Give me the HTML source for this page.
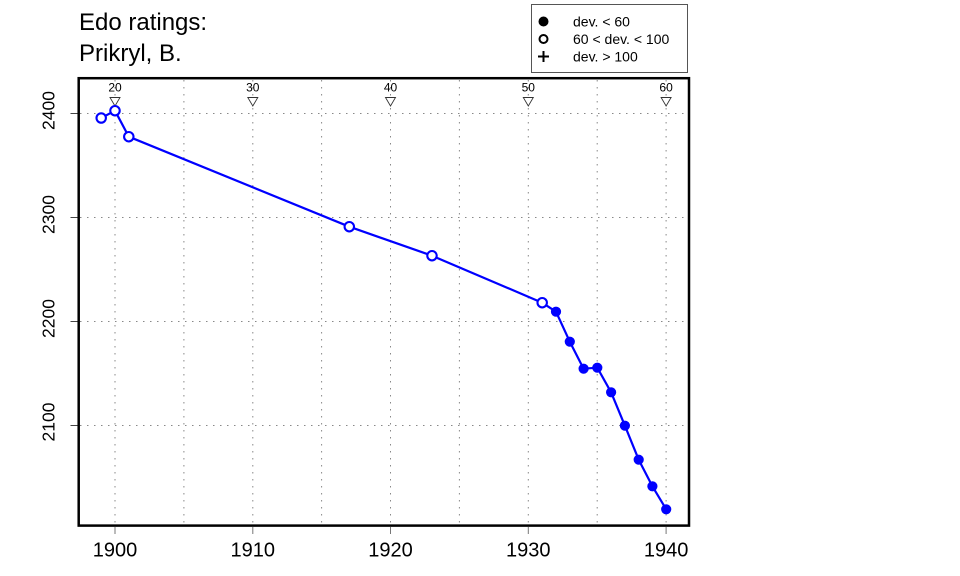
<!DOCTYPE html>
<html>
<head>
<meta charset="utf-8">
<style>
html,body{margin:0;padding:0;background:#fff;}
svg{display:block;}
text{font-family:"Liberation Sans",Arial,sans-serif;fill:#000;}
</style>
</head>
<body>
<svg width="960" height="576" viewBox="0 0 960 576" xmlns="http://www.w3.org/2000/svg">
  <rect x="0" y="0" width="960" height="576" fill="#fff"/>
  <!-- Title -->
  <text x="79" y="30" font-size="24">Edo ratings:</text>
  <text x="79" y="61" font-size="24">Prikryl, B.</text>

  <!-- Legend -->
  <rect x="531.5" y="4.5" width="156" height="68" fill="#fff" stroke="#555" stroke-width="1"/>
  <circle cx="543.5" cy="21.5" r="5" fill="#000"/>
  <circle cx="543.5" cy="39" r="4" fill="none" stroke="#000" stroke-width="2"/>
  <line x1="538" y1="56.5" x2="549" y2="56.5" stroke="#000" stroke-width="2"/>
  <line x1="543.5" y1="51" x2="543.5" y2="62" stroke="#000" stroke-width="2"/>
  <text x="573" y="26.5" font-size="14">dev. &lt; 60</text>
  <text x="573" y="44" font-size="14">60 &lt; dev. &lt; 100</text>
  <text x="573" y="61.5" font-size="14">dev. &gt; 100</text>

  <!-- Grid -->
  <g stroke="#888" stroke-width="1" stroke-dasharray="1.5,5.5" fill="none">
    <line x1="115" y1="80" x2="115" y2="524"/>
    <line x1="183.9" y1="80" x2="183.9" y2="524"/>
    <line x1="252.8" y1="80" x2="252.8" y2="524"/>
    <line x1="321.6" y1="80" x2="321.6" y2="524"/>
    <line x1="390.5" y1="80" x2="390.5" y2="524"/>
    <line x1="459.4" y1="80" x2="459.4" y2="524"/>
    <line x1="528.3" y1="80" x2="528.3" y2="524"/>
    <line x1="597.2" y1="80" x2="597.2" y2="524"/>
    <line x1="666.1" y1="80" x2="666.1" y2="524"/>
    <line x1="80" y1="113.5" x2="688" y2="113.5"/>
    <line x1="80" y1="217.5" x2="688" y2="217.5"/>
    <line x1="80" y1="321.5" x2="688" y2="321.5"/>
    <line x1="80" y1="425.5" x2="688" y2="425.5"/>
  </g>

  <!-- Top age labels and triangles -->
  <g font-size="12" text-anchor="middle">
    <text x="115" y="91.5">20</text>
    <text x="252.8" y="91.5">30</text>
    <text x="390.5" y="91.5">40</text>
    <text x="528.3" y="91.5">50</text>
    <text x="666.1" y="91.5">60</text>
  </g>
  <g fill="#fff" stroke="#333" stroke-width="0.9">
    <polygon points="110,97.5 120,97.5 115,106"/>
    <polygon points="247.8,97.5 257.8,97.5 252.8,106"/>
    <polygon points="385.5,97.5 395.5,97.5 390.5,106"/>
    <polygon points="523.3,97.5 533.3,97.5 528.3,106"/>
    <polygon points="661.1,97.5 671.1,97.5 666.1,106"/>
  </g>

  <!-- Data line -->
  <polyline fill="none" stroke="#0000ff" stroke-width="2.2" stroke-linejoin="round"
    points="101.2,118 115,110.7 128.8,136.7 349.3,226.7 432,255.7 542.2,302.7 556,311.7 569.8,341.7 583.6,368.7 597.3,367.7 611.1,392.3 624.9,425.7 638.7,459.7 652.4,486.3 666.2,509.3"/>
  <!-- Open circles -->
  <g fill="#fff" stroke="#0000ff" stroke-width="2.1">
    <circle cx="101.2" cy="118" r="4.7"/>
    <circle cx="115" cy="110.7" r="4.7"/>
    <circle cx="128.8" cy="136.7" r="4.7"/>
    <circle cx="349.3" cy="226.7" r="4.7"/>
    <circle cx="432" cy="255.7" r="4.7"/>
    <circle cx="542.2" cy="302.7" r="4.7"/>
  </g>
  <!-- Filled circles -->
  <g fill="#0000ff">
    <circle cx="556" cy="311.7" r="5.1"/>
    <circle cx="569.8" cy="341.7" r="5.1"/>
    <circle cx="583.6" cy="368.7" r="5.1"/>
    <circle cx="597.3" cy="367.7" r="5.1"/>
    <circle cx="611.1" cy="392.3" r="5.1"/>
    <circle cx="624.9" cy="425.7" r="5.1"/>
    <circle cx="638.7" cy="459.7" r="5.1"/>
    <circle cx="652.4" cy="486.3" r="5.1"/>
    <circle cx="666.2" cy="509.3" r="5.1"/>
  </g>

  <!-- Plot frame -->
  <rect x="78.7" y="78.2" width="610.3" height="447.4" fill="none" stroke="#000" stroke-width="2.5"/>

  <!-- Y ticks -->
  <g stroke="#444" stroke-width="1">
    <line x1="70.5" y1="113.5" x2="77.5" y2="113.5"/>
    <line x1="70.5" y1="217.5" x2="77.5" y2="217.5"/>
    <line x1="70.5" y1="321.5" x2="77.5" y2="321.5"/>
    <line x1="70.5" y1="425.5" x2="77.5" y2="425.5"/>
  </g>
  <!-- Y labels -->
  <g font-size="17.5" text-anchor="middle">
    <text transform="translate(54.3,110.5) rotate(-90)">2400</text>
    <text transform="translate(54.3,214.5) rotate(-90)">2300</text>
    <text transform="translate(54.3,318.5) rotate(-90)">2200</text>
    <text transform="translate(54.3,422) rotate(-90)">2100</text>
  </g>

  <!-- X ticks -->
  <g stroke="#777" stroke-width="1">
    <line x1="115" y1="527" x2="115" y2="534"/>
    <line x1="252.8" y1="527" x2="252.8" y2="534"/>
    <line x1="390.5" y1="527" x2="390.5" y2="534"/>
    <line x1="528.3" y1="527" x2="528.3" y2="534"/>
    <line x1="666.1" y1="527" x2="666.1" y2="534"/>
  </g>
  <!-- X labels -->
  <g font-size="20" text-anchor="middle">
    <text x="115" y="556.7">1900</text>
    <text x="252.8" y="556.7">1910</text>
    <text x="390.5" y="556.7">1920</text>
    <text x="528.3" y="556.7">1930</text>
    <text x="666.1" y="556.7">1940</text>
  </g>
</svg>
</body>
</html>
